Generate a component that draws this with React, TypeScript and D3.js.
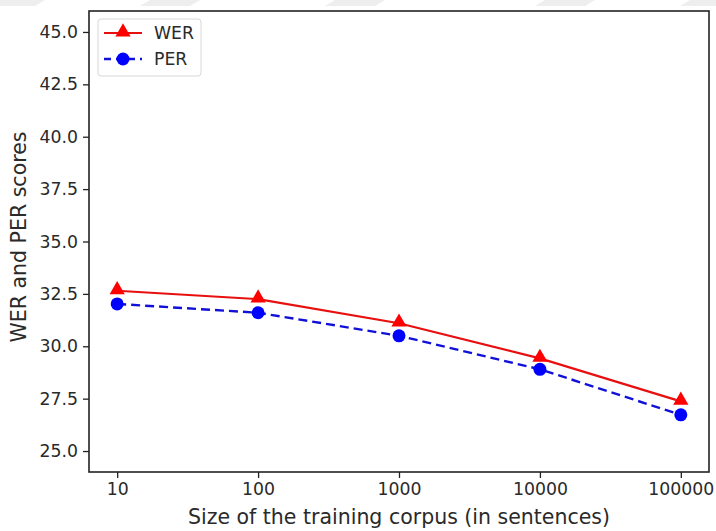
import React, { useRef, useEffect } from 'react';
import * as d3 from 'd3';

const corpusSizes = [10, 100, 1000, 10000, 100000];
const werScores = [32.65, 32.25, 31.1, 29.42, 27.37];
const perScores = [32.02, 31.6, 30.5, 28.9, 26.73];
const yTicks = [25.0, 27.5, 30.0, 32.5, 35.0, 37.5, 40.0, 42.5, 45.0];

function App() {
  const ref = useRef<SVGSVGElement>(null);
  const width = 716;
  const height = 531;
  const m = { left: 89, right: 709, top: 11, bottom: 472 };

  useEffect(() => {
    const svg = d3.select(ref.current);
    svg.selectAll('*').remove();
    const font = 'DejaVu Sans, sans-serif';
    const textColor = '#2a2a2a';

    svg.append('rect').attr('width', width).attr('height', height).attr('fill', '#fff');

    // faint diagonal watermark stripes along the top edge
    const stripes = svg.append('g').attr('fill', '#eeeeee');
    [-5, 150, 335, 545, 690].forEach((sx) => {
      stripes.append('path').attr('d', `M${sx},0 L${sx + 50},0 L${sx + 40},6 L${sx - 10},6 Z`);
    });

    const x = d3.scaleLog().domain([Math.pow(10, 0.8), Math.pow(10, 5.2)]).range([m.left, m.right]);
    const y = d3.scaleLinear().domain([24, 46]).range([m.bottom, m.top]);

    // x axis
    const xAxis = svg.append('g').attr('transform', `translate(0,${m.bottom})`)
      .call(d3.axisBottom(x).tickValues(corpusSizes).tickFormat(d3.format('d')).tickSize(6).tickPadding(5));
    xAxis.select('.domain').remove();
    xAxis.selectAll('line').attr('stroke', '#222').attr('stroke-width', 1.3);
    xAxis.selectAll('text').attr('font-family', font).attr('font-size', 17.3).attr('fill', textColor);

    const yAxis = svg.append('g').attr('transform', `translate(${m.left},0)`)
      .call(d3.axisLeft(y).tickValues(yTicks).tickFormat(d3.format('.1f')).tickSize(6).tickPadding(5));
    yAxis.select('.domain').remove();
    yAxis.selectAll('line').attr('stroke', '#222').attr('stroke-width', 1.3);
    yAxis.selectAll('text').attr('font-family', font).attr('font-size', 17.3).attr('fill', textColor);

    // frame
    svg.append('rect')
      .attr('x', m.left).attr('y', m.top)
      .attr('width', m.right - m.left).attr('height', m.bottom - m.top)
      .attr('fill', 'none').attr('stroke', '#222').attr('stroke-width', 1.6);

    const line = d3.line<number>().x((_, i) => x(corpusSizes[i])).y((d) => y(d));

    svg.append('path').datum(werScores).attr('d', line)
      .attr('fill', 'none').attr('stroke', '#e8100f').attr('stroke-width', 2.2);
    svg.append('path').datum(perScores).attr('d', line)
      .attr('fill', 'none').attr('stroke', '#1010d8').attr('stroke-width', 2.4)
      .attr('stroke-dasharray', '9,5');

    const tri = d3.symbol().type(d3.symbolTriangle).size(100);
    svg.append('g').selectAll('path').data(werScores).enter().append('path')
      .attr('d', tri)
      .attr('transform', (d, i) => `translate(${x(corpusSizes[i])},${y(d) - 1})`)
      .attr('fill', '#f00');
    svg.append('g').selectAll('circle').data(perScores).enter().append('circle')
      .attr('cx', (_, i) => x(corpusSizes[i])).attr('cy', (d) => y(d)).attr('r', 6.5)
      .attr('fill', '#0000ff');

    // legend
    const lg = svg.append('g');
    lg.append('rect').attr('x', 98).attr('y', 19).attr('width', 103).attr('height', 57)
      .attr('rx', 3).attr('fill', '#fff').attr('stroke', '#d8d8d8').attr('stroke-width', 1);
    lg.append('line').attr('x1', 104).attr('x2', 142).attr('y1', 33).attr('y2', 33)
      .attr('stroke', '#e8100f').attr('stroke-width', 2.2);
    lg.append('path').attr('d', tri).attr('transform', 'translate(123,32)').attr('fill', '#f00');
    lg.append('line').attr('x1', 104).attr('x2', 142).attr('y1', 59).attr('y2', 59)
      .attr('stroke', '#1010d8').attr('stroke-width', 2.4).attr('stroke-dasharray', '7,5');
    lg.append('circle').attr('cx', 123).attr('cy', 59).attr('r', 6.5).attr('fill', '#0000ff');
    lg.append('text').attr('x', 154).attr('y', 39).text('WER')
      .attr('font-family', font).attr('font-size', 17.3).attr('fill', textColor);
    lg.append('text').attr('x', 154).attr('y', 65).text('PER')
      .attr('font-family', font).attr('font-size', 17.3).attr('fill', textColor);

    // axis labels
    svg.append('text').attr('x', 399).attr('y', 524)
      .attr('text-anchor', 'middle').text('Size of the training corpus (in sentences)')
      .attr('font-family', font).attr('font-size', 20.5).attr('fill', textColor);
    svg.append('text')
      .attr('transform', `translate(26,237) rotate(-90)`)
      .attr('text-anchor', 'middle').text('WER and PER scores')
      .attr('font-family', font).attr('font-size', 20.5).attr('fill', textColor);
  }, []);

  return (
    <div style={{ position: 'absolute', left: 0, top: 0 }}>
      <svg ref={ref} width={width} height={height}></svg>
    </div>
  );
}

export default App;
